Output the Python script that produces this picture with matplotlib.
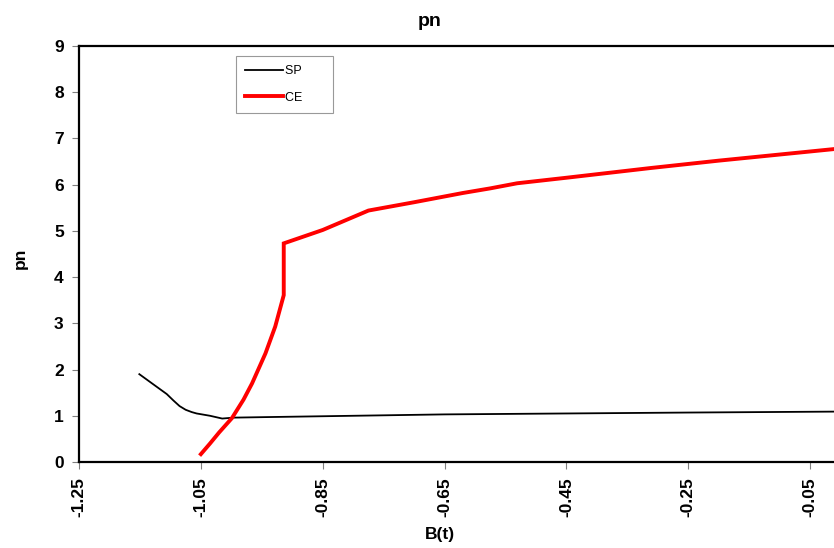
import matplotlib
matplotlib.use("Agg")
import matplotlib.pyplot as plt

plt.rcParams['font.family'] = ['Liberation Sans', 'DejaVu Sans']

# SP curve
sp_b = [-1.151, -1.128, -1.106, -1.095, -1.085, -1.075, -1.065, -1.057, -1.035, -1.015,
        -0.996, -0.95, -0.85, -0.65, -0.45, -0.25, -0.011]
sp_pn = [1.90, 1.68, 1.47, 1.33, 1.21, 1.13, 1.08, 1.05, 1.00, 0.94,
         0.96, 0.97, 0.99, 1.03, 1.05, 1.07, 1.09]

# CE curve
ce_b = [-1.05, -1.035, -1.02, -0.999, -0.98, -0.966, -0.944, -0.928, -0.914, -0.914,
        -0.85, -0.775, -0.70, -0.62, -0.575, -0.531, -0.45, -0.312, -0.20, -0.011]
ce_pn = [0.17, 0.40, 0.64, 0.95, 1.35, 1.70, 2.35, 2.93, 3.61, 4.73,
         5.02, 5.44, 5.62, 5.82, 5.92, 6.03, 6.15, 6.36, 6.52, 6.77]

xticks = [-1.25, -1.05, -0.85, -0.65, -0.45, -0.25, -0.05]
yticks = list(range(10))

W, H = 834, 548
fig = plt.figure(figsize=(W / 100, H / 100), dpi=100)
ax = fig.add_axes([79 / W, (H - 462) / H, 1 - 79 / W, (462 - 46) / H])

ax.plot(sp_b, sp_pn, color='black', lw=1.3, label='SP', solid_joinstyle='round')
ax.plot(ce_b, ce_pn, color='#ff0000', lw=2.8, label='CE', solid_joinstyle='miter')

ax.set_xlim(-1.25, -0.011)
ax.set_ylim(0, 9)
ax.set_xticks(xticks)
ax.set_xticklabels([f"{t:.2f}" for t in xticks], rotation=90,
                   fontsize=12.5, fontweight='bold')
ax.set_yticks(yticks)
ax.set_yticklabels([str(t) for t in yticks], fontsize=12.5, fontweight='bold')
ax.tick_params(axis='both', direction='out', length=5, width=0.8,
               color='#808080', pad=6)

for s in ('left', 'bottom', 'top'):
    ax.spines[s].set_linewidth(1.6)
    ax.spines[s].set_color('black')
ax.spines['right'].set_visible(False)

fig.text(430 / W, 1 - 22 / H, 'pn', ha='center', va='center',
         fontsize=14, fontweight='bold')
fig.text(440 / W, 1 - 535 / H, 'B(t)', ha='center', va='center',
         fontsize=12.5, fontweight='bold')
fig.text(20 / W, 1 - 258 / H, 'pn', ha='center', va='center',
         fontsize=12.5, fontweight='bold', rotation=90)

leg = fig.legend(loc='upper left', bbox_to_anchor=(236 / W, 1 - 56 / H),
                 fontsize=9, frameon=True, fancybox=False, handlelength=3.0,
                 handletextpad=0.2, borderpad=0.75, labelspacing=1.15,
                 borderaxespad=0)
for t in leg.get_texts():
    t.set_text(t.get_text() + '      ')
leg.get_frame().set_edgecolor('#808080')
leg.get_frame().set_linewidth(0.8)

fig.savefig('out.png', dpi=100)
